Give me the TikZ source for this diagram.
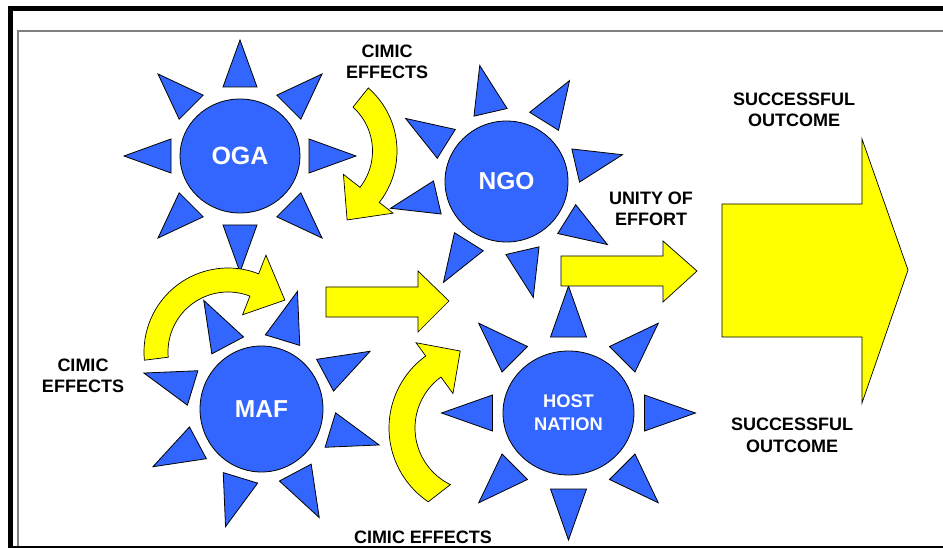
\documentclass[tikz,border=0pt]{standalone}
\usepackage{fontspec}
\setmainfont{Liberation Sans}
\usetikzlibrary{shapes.geometric}
\definecolor{sunblue}{RGB}{51,102,255}
\definecolor{arrowyellow}{RGB}{255,255,0}
\newcommand\sunrays[6]{% cx cy rot base tip halfwidth
  \foreach \k in {0,...,7}{%
    \draw[ray,shift={(#1,#2)},rotate={#3+45*\k}] (#5,0) -- (#4,#6) -- (#4,-#6) -- cycle;}}
\begin{document}
\begin{tikzpicture}[x=1pt,y=-1pt,
  ray/.style={fill=sunblue,draw=black,line width=0.8pt,line join=miter},
  core/.style={ellipse,fill=sunblue,draw=black,line width=0.8pt,inner sep=0pt,text=white},
  blockarrow/.style={fill=arrowyellow,draw=black,line width=0.7pt,line join=miter},
  lbl/.style={font=\fontsize{18}{21.5}\selectfont\bfseries,align=center,inner sep=0pt}]
\useasboundingbox (0,0) rectangle (943,548);
\clip (0,0) rectangle (943,548);
\fill[white] (0,0) rectangle (943,548);
% frame
\draw[line width=5.3] (10.5,560) -- (10.5,8.2) -- (960,8.2);
\draw[gray,line width=1.2] (18,560) -- (18,31) -- (960,31);
\draw[line width=2.5] (10,547) -- (960,547);
% suns
\sunrays{240}{156}{0}{69}{116}{17}
\node[core,minimum width=120,minimum height=114,font=\fontsize{25}{25}\selectfont\bfseries] (oga) at (240,156) {OGA};
\sunrays{506.5}{181.5}{13}{71}{119}{17}
\node[core,minimum width=123,minimum height=121,font=\fontsize{24.5}{25}\selectfont\bfseries] (ngo) at (506.5,181.5) {NGO};
\sunrays{261.5}{409}{28}{72}{123}{18}
\node[core,minimum width=123,minimum height=126,font=\fontsize{24.5}{25}\selectfont\bfseries] (maf) at (261.5,409) {MAF};
\sunrays{568.5}{413}{0}{76}{127}{18}
\node[core,minimum width=131,minimum height=124,align=center,font=\fontsize{18.3}{23}\selectfont\bfseries] (host) at (568.5,413) {HOST\\NATION};
% straight block arrows
\draw[blockarrow] (326,287) -- (418,287) -- (418,271) -- (449,301) -- (418,332) -- (418,317) -- (326,317) -- cycle;
\draw[blockarrow] (561,256) -- (663,256) -- (663,241) -- (697,271) -- (663,302) -- (663,286) -- (561,286) -- cycle;
\draw[blockarrow] (722,204) -- (862,204) -- (862,139) -- (908,270) -- (862,403) -- (862,337) -- (722,337) -- cycle;
% curved block arrows
\draw[blockarrow,shift={(313.5,151)}] plot[domain=-49:38,samples=40] (\x:83.5) -- (38:101) -- (64:76.7) -- (38:38) -- (38:59) -- plot[domain=38:-48,samples=40] (\x:59) -- cycle;
\draw[blockarrow,shift={(228,352)}] plot[domain=-185.6:-68.6,samples=40] (\x:84) -- (-68.6:104) -- (-42.4:77) -- (-68.6:40) -- (-68.6:60) -- plot[domain=-68.6:-185,samples=40] (\x:60) -- cycle;
\draw[blockarrow,shift={(478,428)}] plot[domain=-236:-126,samples=40] (\x:89) -- (-126:105.4) -- (-103:79) -- (-126:42.6) -- (-126:63) -- plot[domain=-126:-244,samples=40] (\x:63) -- cycle;
% labels
\node[lbl] (cimictop) at (387,62) {CIMIC\\EFFECTS};
\node[lbl] (cimicleft) at (83,376) {CIMIC\\EFFECTS};
\node[lbl] (cimicbottom) at (423,537) {CIMIC EFFECTS};
\node[lbl] (unity) at (651,209) {UNITY OF\\EFFORT};
\node[lbl] (succtop) at (794,110) {SUCCESSFUL\\OUTCOME};
\node[lbl] (succbottom) at (792,435.5) {SUCCESSFUL\\OUTCOME};
\end{tikzpicture}
\end{document}
